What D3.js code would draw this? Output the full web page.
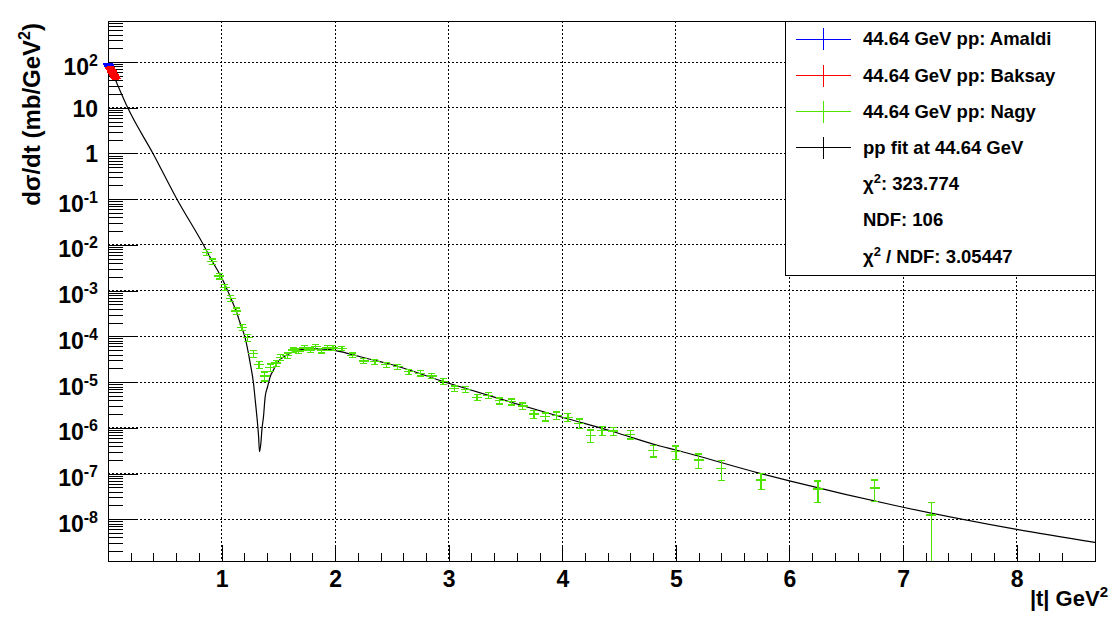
<!DOCTYPE html>
<html><head><meta charset="utf-8">
<script src="https://cdn.jsdelivr.net/npm/d3@7"></script>
<style>
body{margin:0;background:#fff;}
svg{display:block;}
text{font-family:"Liberation Sans",Arial,Helvetica,sans-serif;font-weight:bold;fill:#000;}
</style>
</head><body>
<svg id="c" width="1112" height="617"></svg>
<script>
// ---------------- data ----------------
const amaldiT = [0.004, 0.007, 0.010, 0.013];
const amaldiY = [90, 87, 84, 81];
const amaldiE = [4, 4, 4, 4];

const baksayT = [0.020, 0.026, 0.032, 0.038, 0.044, 0.050, 0.056, 0.062, 0.068];
const baksayY = [74, 69, 65, 61, 57, 53, 50, 47, 44];
const baksayE = [5, 5, 4.5, 4.3, 4, 3.7, 3.5, 3.3, 3.1];

const nagyT = [0.87, 0.92, 0.98, 1.03, 1.08, 1.13, 1.18, 1.23, 1.28, 1.33, 1.38, 1.43, 1.48, 1.52,
  1.58, 1.63, 1.68, 1.73, 1.78, 1.83, 1.88, 1.93, 1.98, 2.06, 2.15, 2.25, 2.35, 2.45, 2.55, 2.65,
  2.75, 2.85, 2.95, 3.05, 3.15, 3.25, 3.35, 3.45, 3.55, 3.65, 3.75, 3.85, 3.95, 4.05, 4.15, 4.25,
  4.35, 4.45, 4.60, 4.80, 5.00, 5.20, 5.40, 5.75, 6.25, 6.75, 7.25];
const nagyY = [6.8e-3, 4.3e-3, 2.1e-3, 1.18e-3, 6.7e-4, 3.6e-4, 1.58e-4, 9.3e-5, 4.2e-5, 2.4e-5, 1.36e-5, 2.1e-5, 2.6e-5, 3.5e-5,
  3.8e-5, 5.0e-5, 4.8e-5, 5.6e-5, 5.0e-5, 5.9e-5, 4.9e-5, 5.6e-5, 5.6e-5, 5.5e-5, 3.85e-5, 2.9e-5, 2.8e-5, 2.4e-5, 2.17e-5, 1.69e-5,
  1.56e-5, 1.36e-5, 1.04e-5, 7.2e-6, 6.95e-6, 4.6e-6, 5.1e-6, 3.9e-6, 3.7e-6, 3.0e-6, 2.0e-6, 1.75e-6, 1.88e-6, 1.70e-6, 1.25e-6, 6.9e-7,
  8.7e-7, 8.5e-7, 7.2e-7, 3.2e-7, 3.0e-7, 1.98e-7, 1.30e-7, 7.2e-8, 4.6e-8, 4.8e-8, 1.24e-8];
const nagyE = [1.0e-3, 0.6e-3, 0.3e-3, 0.17e-3, 1.0e-4, 0.55e-4, 0.25e-4, 1.5e-5, 0.7e-5, 0.45e-5, 0.3e-5, 0.4e-5, 0.4e-5, 0.5e-5,
  0.5e-5, 0.6e-5, 0.6e-5, 0.7e-5, 0.6e-5, 0.7e-5, 0.6e-5, 0.7e-5, 0.7e-5, 0.6e-5, 0.45e-5, 0.35e-5, 0.35e-5, 0.3e-5, 0.27e-5, 0.22e-5,
  0.2e-5, 0.18e-5, 0.14e-5, 1.0e-6, 1.0e-6, 0.7e-6, 0.75e-6, 0.6e-6, 0.55e-6, 0.5e-6, 0.4e-6, 0.35e-6, 0.35e-6, 0.35e-6, 0.3e-6, 2.1e-7,
  2.0e-7, 1.8e-7, 1.5e-7, 0.9e-7, 1.0e-7, 0.7e-7, 0.6e-7, 2.7e-8, 2.3e-8, 2.4e-8, 1.12e-8];

const fitT = [0.0, 0.011, 0.079, 0.176, 0.396, 0.607, 0.841, 0.909, 1.003, 1.076,
  1.135, 1.164, 1.208, 1.252, 1.281, 1.296, 1.311, 1.326, 1.334, 1.346, 1.355, 1.369, 1.384, 1.405, 1.428,
  1.457, 1.487, 1.575, 1.663, 1.751, 1.868, 2.006, 2.132, 2.308, 2.455, 3.0, 3.48, 4.0, 4.45, 4.86, 5.0,
  5.74, 6.0, 6.99, 8.0, 8.69];
const fitY = [95, 86, 34, 9.7, 1.0, 0.10, 0.0100, 4.8e-3, 1.86e-3, 7.4e-4,
  3.19e-4, 1.93e-4, 9.1e-5, 2.6e-5, 9.4e-6, 4.1e-6, 1.75e-6, 6.4e-7, 3.0e-7, 4.6e-7, 9.0e-7, 1.75e-6, 4.8e-6, 7.9e-6, 1.31e-5,
  1.84e-5, 2.58e-5, 3.92e-5, 4.86e-5, 5.3e-5, 5.3e-5, 4.86e-5, 4.1e-5, 3.15e-5, 2.58e-5, 9.4e-6, 4.07e-6, 1.7e-6, 8.2e-7, 4.0e-7, 3.27e-7,
  1.01e-7, 6.9e-8, 1.85e-8, 6.0e-9, 3.1e-9];

const xMajorTicks = [0, 1, 2, 3, 4, 5, 6, 7, 8];
const xTickLabels = ["", "1", "2", "3", "4", "5", "6", "7", "8"];
const yDecades = [-8, -7, -6, -5, -4, -3, -2, -1, 0, 1, 2];

const legendLabels = ["44.64 GeV pp: Amaldi", "44.64 GeV pp: Baksay", "44.64 GeV pp: Nagy", "pp fit at 44.64 GeV"];
const legendColors = ["#0000ff", "#ff0000", "#4fe400", "#000000"];
const chi2 = "323.774", ndf = "106", chi2ndf = "3.05447";

// ---------------- layout ----------------
const L = 108, R = 1095, T = 21, B = 561;
const x = d3.scaleLinear().domain([0, 8.69]).range([L, R]);
const y = d3.scaleLog().domain([1.22e-9, 790]).range([B, T]);
const svg = d3.select("#c");

// grid
const gGrid = svg.append("g").attr("shape-rendering", "crispEdges")
  .attr("stroke", "#000").attr("stroke-width", 1).attr("stroke-dasharray", "1.5,2.5");
xMajorTicks.filter(d => d > 0).forEach(t => {
  gGrid.append("line").attr("x1", x(t)).attr("x2", x(t)).attr("y1", T).attr("y2", B);
});
yDecades.forEach(e => {
  gGrid.append("line").attr("x1", L).attr("x2", R).attr("y1", y(Math.pow(10, e))).attr("y2", y(Math.pow(10, e)));
});

// x axis (ticks inside)
const xMinor = d3.range(0, 43).map(i => i * 0.2).filter(v => Math.abs(v - Math.round(v)) > 1e-6 && v < 8.69);
const axX1 = svg.append("g").attr("transform", `translate(0,${B})`).attr("shape-rendering", "crispEdges")
  .call(d3.axisBottom(x).tickValues(xMinor).tickSize(-8).tickFormat(""));
const axX2 = svg.append("g").attr("transform", `translate(0,${B})`).attr("shape-rendering", "crispEdges")
  .call(d3.axisBottom(x).tickValues(xMajorTicks).tickSize(-16).tickPadding(9.7)
    .tickFormat((d, i) => xTickLabels[i]));
[axX1, axX2].forEach(a => { a.select(".domain").remove(); a.selectAll("line").attr("stroke", "#000"); });
axX2.selectAll("text").attr("font-size", 23).attr("font-family", null).attr("fill", "#000");

// y axis (ticks inside)
const yMinor = [];
for (let e = -9; e <= 2; e++) for (let k = 2; k <= 9; k++) {
  const v = k * Math.pow(10, e);
  if (v > 1.22e-9 && v < 790) yMinor.push(v);
}
const axY1 = svg.append("g").attr("transform", `translate(${L},0)`).attr("shape-rendering", "crispEdges")
  .call(d3.axisLeft(y).tickValues(yMinor).tickSize(-15).tickFormat(""));
const axY2 = svg.append("g").attr("transform", `translate(${L},0)`).attr("shape-rendering", "crispEdges")
  .call(d3.axisLeft(y).tickValues(yDecades.map(e => Math.pow(10, e))).tickSize(-30).tickPadding(10).tickFormat(""));
[axY1, axY2].forEach(a => { a.select(".domain").remove(); a.selectAll("line").attr("stroke", "#000"); });
axY2.selectAll(".tick text").each(function (d, i) {
  const e = yDecades[i];
  const t = d3.select(this).attr("font-size", 23).attr("font-family", null).attr("fill", "#000").text(null);
  if (e === 0 || e === 1) {
    t.attr("dy", 8.3).text(e === 0 ? "1" : "10");
  } else {
    t.attr("dy", 12);
    t.append("tspan").text("10");
    t.append("tspan").attr("font-size", 16).attr("dy", -9).text(String(e));
  }
});

// frame
svg.append("rect").attr("x", L).attr("y", T).attr("width", R - L).attr("height", B - T)
  .attr("fill", "none").attr("stroke", "#000").attr("stroke-width", 1).attr("shape-rendering", "crispEdges");

// fit curve
const clipId = "plotclip";
svg.append("clipPath").attr("id", clipId).append("rect").attr("x", L).attr("y", T).attr("width", R - L).attr("height", B - T);
const line = d3.line().x(d => x(d[0])).y(d => y(d[1])).curve(d3.curveMonotoneX);
svg.append("path").datum(fitT.map((t, i) => [t, fitY[i]]))
  .attr("d", line).attr("fill", "none").attr("stroke", "#000").attr("stroke-width", 1.2)
  .attr("clip-path", `url(#${clipId})`);

// data points with error bars
const [yMin, yMax] = y.domain();
function drawPoints(Ts, Ys, Es, color) {
  const g = svg.append("g").attr("stroke", color).attr("stroke-width", 1.3).attr("shape-rendering", "crispEdges");
  Ts.forEach((t, i) => {
    const cx = x(t), cy = y(Ys[i]);
    const hi = Ys[i] + Es[i], lo = Ys[i] - Es[i];
    const yHi = y(Math.min(hi, yMax));
    const loClipped = lo <= yMin;
    const yLo = loClipped ? B : y(lo);
    g.append("line").attr("x1", cx).attr("x2", cx).attr("y1", yHi).attr("y2", yLo);
    g.append("line").attr("x1", cx - 5).attr("x2", cx + 5).attr("y1", cy).attr("y2", cy);
    g.append("line").attr("x1", cx - 3.5).attr("x2", cx + 3.5).attr("y1", yHi).attr("y2", yHi);
    if (!loClipped) g.append("line").attr("x1", cx - 3.5).attr("x2", cx + 3.5).attr("y1", yLo).attr("y2", yLo);
  });
}
drawPoints(amaldiT, amaldiY, amaldiE, legendColors[0]);
drawPoints(baksayT, baksayY, baksayE, legendColors[1]);
drawPoints(nagyT, nagyY, nagyE, legendColors[2]);

// axis titles
const yt = svg.append("text").attr("transform", "translate(40,23) rotate(-90)")
  .attr("text-anchor", "end").attr("font-size", 24);
yt.append("tspan").text("dσ/dt (mb/GeV");
yt.append("tspan").attr("font-size", 16).attr("dy", -10).text("2");
yt.append("tspan").attr("dy", 10).text(")");

const xt = svg.append("text").attr("x", 1108).attr("y", 606).attr("text-anchor", "end").attr("font-size", 22);
xt.append("tspan").text("|t| GeV");
xt.append("tspan").attr("font-size", 15).attr("dy", -9).text("2");

// legend
const lg = svg.append("g");
lg.append("rect").attr("x", 785).attr("y", T).attr("width", R - 785).attr("height", 254)
  .attr("fill", "#fff").attr("stroke", "#000").attr("stroke-width", 1).attr("shape-rendering", "crispEdges");
const rowY = i => 39.3 + i * 36.2;
legendLabels.forEach((lab, i) => {
  const cy = rowY(i);
  const g = lg.append("g").attr("stroke", legendColors[i]).attr("stroke-width", 1).attr("shape-rendering", "crispEdges");
  g.append("line").attr("x1", 796).attr("x2", 851).attr("y1", cy).attr("y2", cy);
  g.append("line").attr("x1", 823).attr("x2", 823).attr("y1", cy - 11).attr("y2", cy + 11);
  lg.append("text").attr("x", 863).attr("y", cy + 6).attr("font-size", 18.5).text(lab);
});
const t5 = lg.append("text").attr("x", 863).attr("y", rowY(4) + 6).attr("font-size", 18.5);
t5.append("tspan").text("χ");
t5.append("tspan").attr("font-size", 13).attr("dy", -7).text("2");
t5.append("tspan").attr("dy", 7).text(": " + chi2);
lg.append("text").attr("x", 863).attr("y", rowY(5) + 6).attr("font-size", 18.5).text("NDF: " + ndf);
const t7 = lg.append("text").attr("x", 863).attr("y", rowY(6) + 6).attr("font-size", 18.5);
t7.append("tspan").text("χ");
t7.append("tspan").attr("font-size", 13).attr("dy", -7).text("2");
t7.append("tspan").attr("dy", 7).text(" / NDF: " + chi2ndf);
</script>
</body></html>
